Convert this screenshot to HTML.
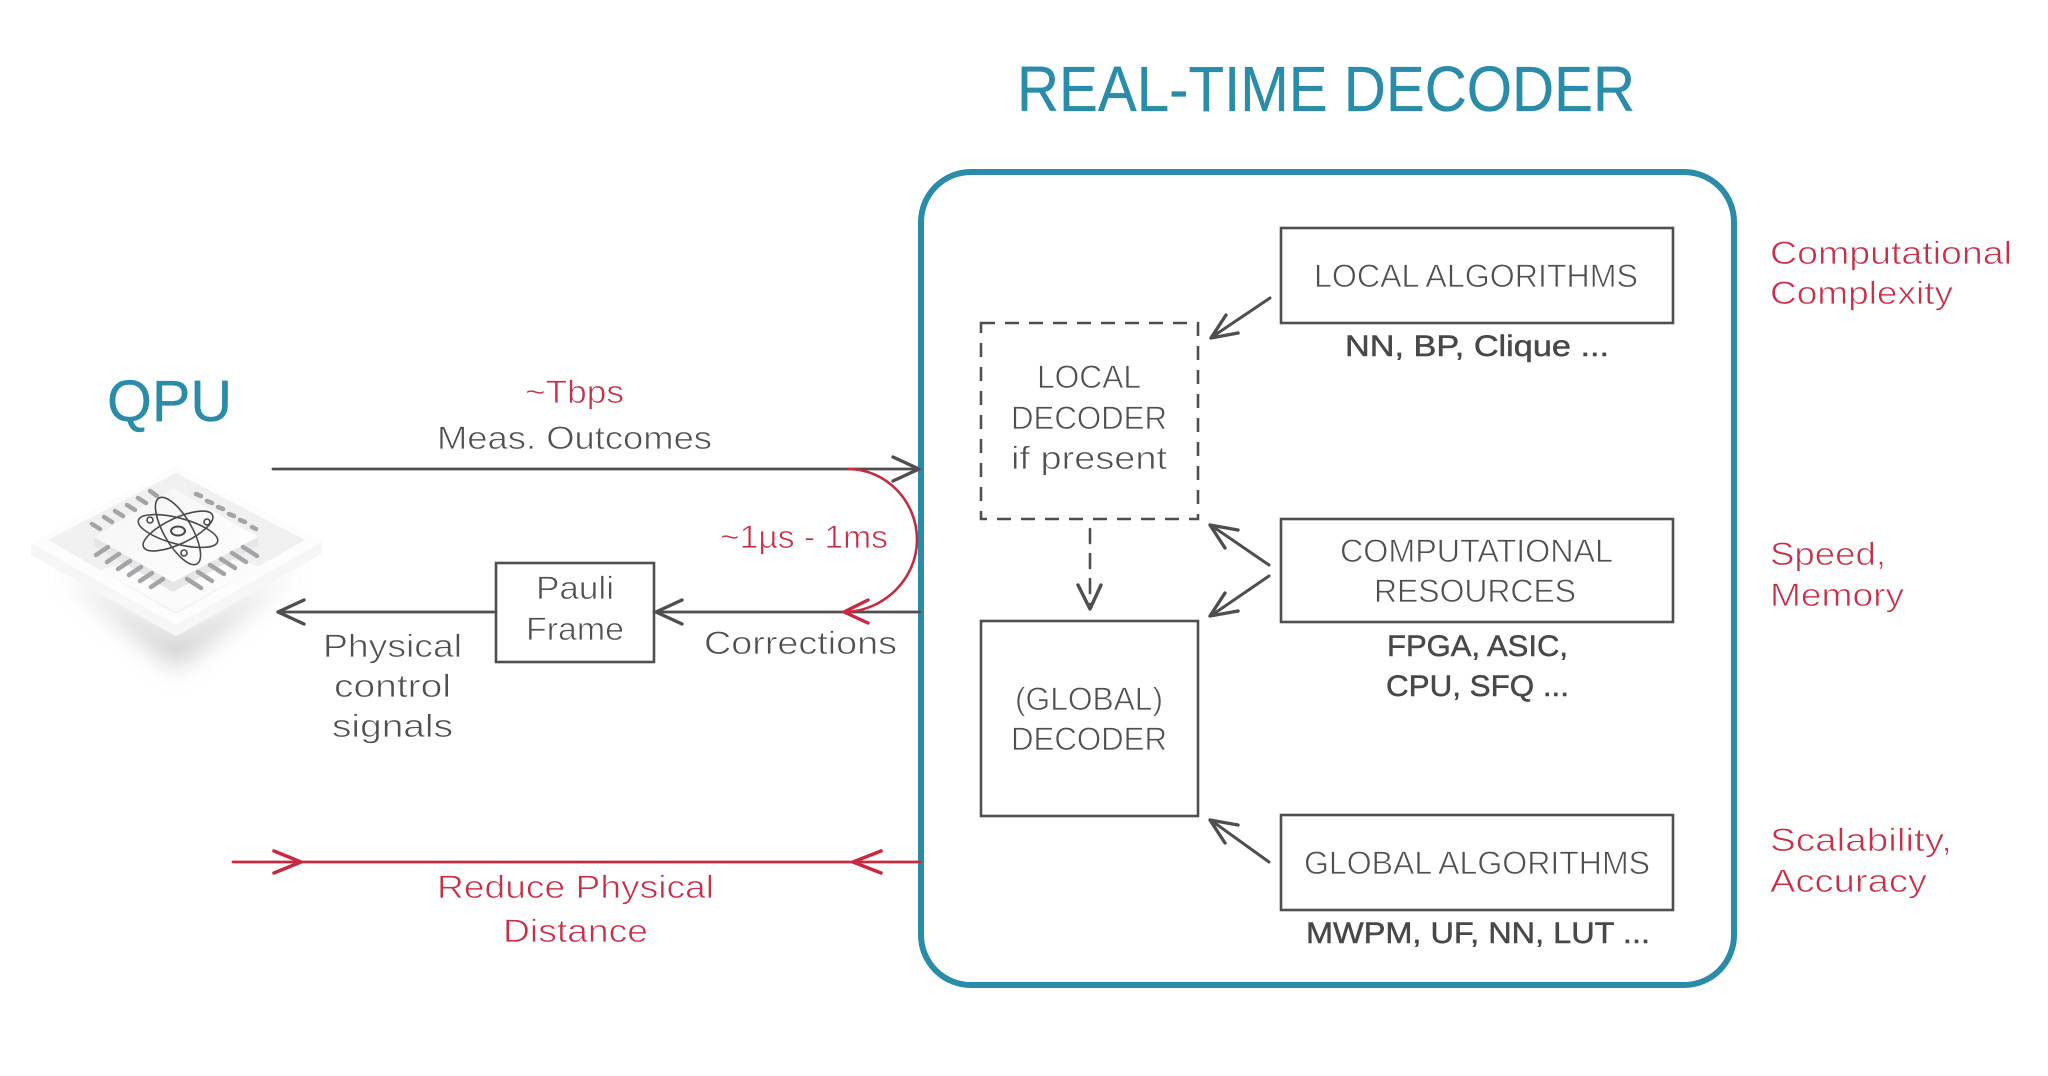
<!DOCTYPE html>
<html><head><meta charset="utf-8"><style>
html,body{margin:0;padding:0;background:#fff}
svg{display:block}
text{font-family:"Liberation Sans",sans-serif;paint-order:normal}
.g{fill:#505052;font-size:32px;stroke:#fff;stroke-width:.7px}
.r{fill:#c8304a;font-size:32px;stroke:#fff;stroke-width:.7px}
.b{fill:#48484a;font-size:30px;stroke:#48484a;stroke-width:.5px}
.t{fill:#2a8ca8;stroke:#2a8ca8;stroke-width:.3px}
</style></head><body>
<svg width="2048" height="1076" viewBox="0 0 2048 1076" xmlns="http://www.w3.org/2000/svg">
<defs>
<filter id="bl" x="-30%" y="-50%" width="160%" height="200%"><feGaussianBlur stdDeviation="13"/></filter>
<linearGradient id="chip2" x1="0" y1="0" x2="1" y2="1"><stop offset="0" stop-color="#f4f4f5"/><stop offset="1" stop-color="#ffffff"/></linearGradient>
</defs>
<rect width="2048" height="1076" fill="#fff"/>

<!-- QPU chip -->
<polygon points="60,570 176,640 295,570 176,668" fill="#a4a4a6" opacity=".6" filter="url(#bl)"/>
<polygon points="31,543 176,625 322,542 322,554 176,636 31,555" fill="#f6f6f7"/>
<polygon points="31,543 176,466 322,542 176,625" fill="#fcfcfc"/>
<polygon points="48,540 176,473 305,540 176,614" fill="#f0f0f1"/>
<polygon points="100,570 176,612 260,566 176,548" fill="#fbfbfc"/>
<polygon points="94,537 173,582 258,537 258,546 173,592 94,546" fill="#e6e6e8"/>
<polygon points="94,537 173,488 258,537 173,582" fill="url(#chip2)"/>
<g stroke="#a4a4a6" stroke-width="4.5" stroke-linecap="round">
<path d="M92,524 L100,529 M104,517 L112,522 M115,511 L123,516 M127,505 L135,510 M138,498 L146,503 M150,491 L157,496"/>
<path d="M196,494 L201,496 M207,501 L212,503 M218,507 L223,509 M229,514 L234,516 M240,520 L245,522 M252,527 L256,529"/>
<path d="M96,555 L108,547 M107,562 L119,554 M118,569 L130,561 M129,575 L141,567 M140,581 L152,573 M151,587 L163,579"/>
<path d="M187,579 L201,588 M198,572 L212,581 M210,565 L224,574 M221,559 L235,568 M232,553 L246,562 M243,547 L257,556"/>
</g>
<g fill="none" stroke="#4a4a4c" stroke-width="1.6">
<ellipse cx="178" cy="531" rx="41" ry="13" transform="rotate(15 178 531)"/>
<ellipse cx="178" cy="531" rx="38" ry="13" transform="rotate(-25 178 531)"/>
<ellipse cx="178" cy="531" rx="14" ry="38" transform="rotate(-30 178 531)"/>
<ellipse cx="178" cy="531" rx="7" ry="4.5" stroke-width="2"/>
<circle cx="150" cy="520" r="3" fill="#fff"/><circle cx="207" cy="522" r="3" fill="#fff"/><circle cx="184" cy="553" r="3" fill="#fff"/>
</g>

<!-- Main box -->
<rect x="921" y="172" width="813" height="813" rx="50" ry="50" fill="none" stroke="#2a8ca8" stroke-width="6"/>

<!-- boxes -->
<g fill="none" stroke="#4f4f51" stroke-width="2.6">
<rect x="1281" y="228" width="392" height="95"/>
<rect x="1281" y="519" width="392" height="103"/>
<rect x="1281" y="815" width="392" height="95"/>
<rect x="981" y="621" width="217" height="195"/>
<rect x="496" y="563" width="158" height="99"/>
<rect x="981" y="323" width="217" height="196" stroke-dasharray="14 10"/>
</g>

<!-- connectors -->
<g fill="none" stroke="#4f4f51" stroke-linecap="round" stroke-linejoin="round">
<path d="M273,469 H918" stroke-width="2.8"/>
<path d="M893,457 L919,469 L893,481" stroke-width="3.4"/>
<path d="M654,612 H920" stroke-width="2.8"/>
<path d="M682,600 L656,612 L682,624" stroke-width="3.4"/>
<path d="M496,612 H280" stroke-width="2.8"/>
<path d="M304,600 L278,612 L304,624" stroke-width="3.4"/>
<path d="M1270,298 L1212,337" stroke-width="3"/>
<path d="M1226,315 L1211,338 L1238,333" stroke-width="3.4"/>
<path d="M1269,565 L1212,526" stroke-width="3"/>
<path d="M1238,530 L1210,525 L1225,548" stroke-width="3.4"/>
<path d="M1269,576 L1212,615" stroke-width="3"/>
<path d="M1225,593 L1210,616 L1238,611" stroke-width="3.4"/>
<path d="M1269,862 L1212,821" stroke-width="3"/>
<path d="M1238,825 L1210,820 L1225,843" stroke-width="3.4"/>
<path d="M1090,529 V606" stroke-width="2.6" stroke-dasharray="14 11"/>
<path d="M1078,585 L1090,609 L1101,585" stroke-width="3.4"/>
</g>
<g fill="none" stroke="#c62a40" stroke-linecap="round" stroke-linejoin="round">
<path d="M848,469 C885,469 917,500 917,540 C917,578 885,610 847,612" stroke-width="2.6"/>
<path d="M868,600 L844,612 L868,623" stroke-width="3.4"/>
<path d="M233,862 H920" stroke-width="2.8"/>
<path d="M274,851 L301,862 L274,873" stroke-width="3.6"/>
<path d="M881,851 L853,862 L881,873" stroke-width="3.6"/>
</g>

<!-- text -->
<text class="t" x="1017" y="111" font-size="64" textLength="618" lengthAdjust="spacingAndGlyphs">REAL-TIME DECODER</text>
<text class="t" x="107" y="421" font-size="58" textLength="125" lengthAdjust="spacingAndGlyphs">QPU</text>

<text class="r" x="525" y="403" textLength="99" lengthAdjust="spacingAndGlyphs">~Tbps</text>
<text class="g" x="437" y="449" textLength="275" lengthAdjust="spacingAndGlyphs">Meas. Outcomes</text>
<text class="r" x="720" y="548" textLength="168" lengthAdjust="spacingAndGlyphs">~1µs - 1ms</text>
<text class="g" x="536" y="599" textLength="78" lengthAdjust="spacingAndGlyphs">Pauli</text>
<text class="g" x="526" y="640" textLength="98" lengthAdjust="spacingAndGlyphs">Frame</text>
<text class="g" x="704" y="654" textLength="193" lengthAdjust="spacingAndGlyphs">Corrections</text>
<text class="g" x="323" y="657" textLength="139" lengthAdjust="spacingAndGlyphs">Physical</text>
<text class="g" x="334" y="697" textLength="117" lengthAdjust="spacingAndGlyphs">control</text>
<text class="g" x="332" y="737" textLength="121" lengthAdjust="spacingAndGlyphs">signals</text>
<text class="r" x="437" y="898" textLength="277" lengthAdjust="spacingAndGlyphs">Reduce Physical</text>
<text class="r" x="503" y="942" textLength="145" lengthAdjust="spacingAndGlyphs">Distance</text>

<text class="g" x="1314" y="287" textLength="324" lengthAdjust="spacingAndGlyphs">LOCAL ALGORITHMS</text>
<text class="b" x="1345" y="356" textLength="264" lengthAdjust="spacingAndGlyphs">NN, BP, Clique ...</text>
<text class="g" x="1037" y="388" textLength="104" lengthAdjust="spacingAndGlyphs">LOCAL</text>
<text class="g" x="1011" y="429" textLength="156" lengthAdjust="spacingAndGlyphs">DECODER</text>
<text class="g" x="1011" y="469" textLength="156" lengthAdjust="spacingAndGlyphs">if present</text>
<text class="g" x="1340" y="562" textLength="273" lengthAdjust="spacingAndGlyphs">COMPUTATIONAL</text>
<text class="g" x="1374" y="602" textLength="202" lengthAdjust="spacingAndGlyphs">RESOURCES</text>
<text class="b" x="1387" y="656" textLength="181" lengthAdjust="spacingAndGlyphs">FPGA, ASIC,</text>
<text class="b" x="1386" y="696" textLength="183" lengthAdjust="spacingAndGlyphs">CPU, SFQ ...</text>
<text class="g" x="1015" y="710" textLength="148" lengthAdjust="spacingAndGlyphs">(GLOBAL)</text>
<text class="g" x="1011" y="750" textLength="156" lengthAdjust="spacingAndGlyphs">DECODER</text>
<text class="g" x="1304" y="874" textLength="346" lengthAdjust="spacingAndGlyphs">GLOBAL ALGORITHMS</text>
<text class="b" x="1306" y="943" textLength="344" lengthAdjust="spacingAndGlyphs">MWPM, UF, NN, LUT ...</text>

<text class="r" x="1770" y="264" textLength="242" lengthAdjust="spacingAndGlyphs">Computational</text>
<text class="r" x="1770" y="304" textLength="183" lengthAdjust="spacingAndGlyphs">Complexity</text>
<text class="r" x="1770" y="565" textLength="116" lengthAdjust="spacingAndGlyphs">Speed,</text>
<text class="r" x="1770" y="606" textLength="134" lengthAdjust="spacingAndGlyphs">Memory</text>
<text class="r" x="1770" y="851" textLength="182" lengthAdjust="spacingAndGlyphs">Scalability,</text>
<text class="r" x="1770" y="892" textLength="157" lengthAdjust="spacingAndGlyphs">Accuracy</text>
</svg>
</body></html>
